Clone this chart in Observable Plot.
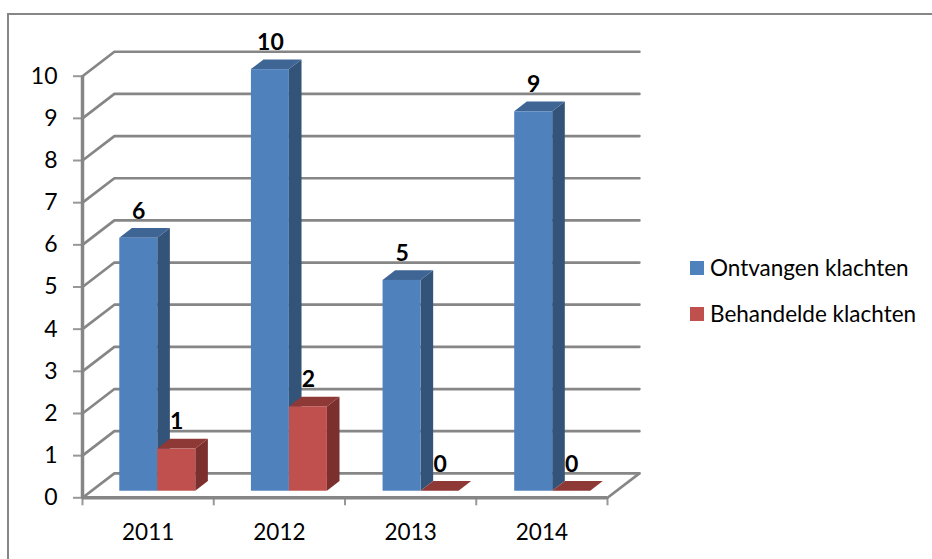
<!DOCTYPE html>
<html><head><meta charset="utf-8">
<script src="https://cdn.jsdelivr.net/npm/d3@7"></script>
<script src="https://cdn.jsdelivr.net/npm/@observablehq/plot@0.6"></script>
<style>
html,body{margin:0;padding:0;background:#fff}
#chart{position:relative;width:932px;height:559px;overflow:hidden;font-family:Lato,sans-serif}
#frame{position:absolute;left:7px;top:13px;right:0;bottom:0;border-top:2px solid #868686;border-left:2px solid #868686;box-sizing:border-box}
.leg{position:absolute;left:690px;font-size:22.5px;color:#000;line-height:26px;white-space:nowrap}
.leg i{position:absolute;left:0;top:6px;width:14px;height:14px}
.leg span{position:absolute;left:20px;top:0}
svg{position:absolute;left:0;top:0}
</style></head><body>
<div id="chart"><div id="frame"></div></div>
<script>
const years = ["2011","2012","2013","2014"];
const seriesNames = ["Ontvangen klachten","Behandelde klachten"];
const ontvangen = [6,10,5,9];
const behandeld = [1,2,0,0];
const valueTicks = [0,1,2,3,4,5,6,7,8,9,10];
const frontColors = ["#4F81BD","#C0504D"];
const sideColors = ["#335378","#7B302E"];
const topColors = ["#3F6595","#8F3937"];

// pseudo-3D geometry, expressed in scale units (one category = 1, one complaint = 1)
const wallDX = 0.243, wallDY = 0.58, wallRight = 4;
const groupStep = 1.003, barInset = 0.284, barW = 0.2895, barDX = 0.096, barDY = 0.23, barBase = 0.156;

const bars = [];
years.forEach((yr,i)=>{
  [ontvangen[i],behandeld[i]].forEach((v,s)=>{
    const x1 = i*groupStep + barInset + s*barW, x2 = x1 + barW;
    bars.push({id:yr+s,s,v,x1,x2,bot:barBase,top:v+barBase});
  });
});
const sides = bars.filter(b=>b.v>0).flatMap(b=>[
  {id:b.id,s:b.s,x:b.x2,y1:b.bot,y2:b.top},
  {id:b.id,s:b.s,x:b.x2+barDX,y1:b.bot+barDY,y2:b.top+barDY}
]);
const tops = bars.flatMap(b=>[
  {id:b.id,s:b.s,y:b.top,x1:b.x1,x2:b.x2},
  {id:b.id,s:b.s,y:b.top+barDY,x1:b.x1+barDX,x2:b.x2+barDX}
]);
const gridPath = valueTicks.flatMap(v=>[
  {v,x:0,y:v},{v,x:wallDX,y:v+wallDY},{v,x:wallRight+wallDX,y:v+wallDY}
]);
const axisGrey = "#868686";

const plot = Plot.plot({
  width:932,height:559,
  marginLeft:82,marginRight:325,marginTop:75.7,marginBottom:61.7,
  style:{background:"transparent",fontFamily:"Lato,sans-serif",overflow:"visible"},
  x:{type:"linear",domain:[0,4]},
  y:{type:"linear",domain:[0,10]},
  marks:[
    Plot.line(gridPath,{x:"x",y:"y",z:"v",stroke:axisGrey,strokeWidth:2.7,curve:"linear"}),
    Plot.line([{x:4,y:0},{x:wallRight+wallDX,y:wallDY}],{x:"x",y:"y",stroke:axisGrey,strokeWidth:2.7}),
    Plot.ruleX([0],{y1:0,y2:10,stroke:axisGrey,strokeWidth:3.5}),
    Plot.ruleY([0],{x1:0,x2:4,stroke:axisGrey,strokeWidth:3.5}),
    Plot.axisY({ticks:valueTicks,tickSize:9,tickPadding:16,stroke:axisGrey,strokeWidth:2,strokeOpacity:0.85,fontSize:23,color:"#000",label:null,tickFormat:d=>String(d)}),
    Plot.axisX({ticks:[0,1,2,3,4],tickSize:8,stroke:axisGrey,strokeWidth:2,strokeOpacity:0.85,tickFormat:()=>"",label:null}),
    Plot.axisX({ticks:[0.5,1.5,2.5,3.5],tickSize:0,tickPadding:26,fontSize:22.5,color:"#000",label:null,tickFormat:d=>years[d-0.5]}),
    Plot.areaY(sides,{x:"x",y1:"y1",y2:"y2",z:"id",fill:d=>sideColors[d.s],curve:"linear"}),
    Plot.areaX(tops,{y:"y",x1:"x1",x2:"x2",z:"id",fill:d=>topColors[d.s],curve:"linear"}),
    Plot.rect(bars.filter(b=>b.v>0),{x1:"x1",x2:"x2",y1:"bot",y2:"top",fill:d=>frontColors[d.s],inset:0}),
    Plot.text(bars,{x:d=>(d.x1+d.x2)/2,y:"top",dy:-27,text:d=>String(d.v),fontSize:23,fontWeight:700,fill:"#000",textAnchor:"middle",lineAnchor:"middle"})
  ]
});
const chart = document.getElementById("chart");
chart.appendChild(plot);
seriesNames.forEach((n,i)=>{
  const d=document.createElement("div");
  d.className="leg";
  d.style.top=(i===0?255:301)+"px";
  d.innerHTML=`<i style="background:${frontColors[i]}"></i><span>${n}</span>`;
  chart.appendChild(d);
});
</script>
</body></html>
